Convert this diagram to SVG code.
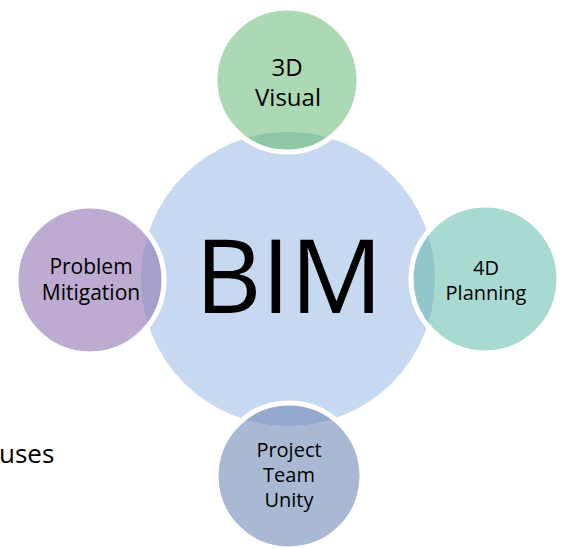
<svg xmlns="http://www.w3.org/2000/svg" width="565" height="548" viewBox="0 0 565 548">
<style>
text{font-family:"Open Sans","Liberation Sans",Arial,sans-serif;fill:#000;text-anchor:middle}
.ring{fill:none;stroke:#fff;stroke-width:5}
.s{font-size:20px}
</style>
<defs>
<clipPath id="cTop"><circle cx="287" cy="80" r="70"/></clipPath>
<clipPath id="cRight"><circle cx="485" cy="279" r="72"/></clipPath>
<clipPath id="cLeft"><circle cx="90" cy="280" r="72"/></clipPath>
<clipPath id="cBottom"><circle cx="289" cy="476" r="71"/></clipPath>
</defs>
<rect width="565" height="548" fill="#fff"/>
<g id="bim">
<circle cx="288" cy="279" r="147" fill="#c6d9f0"/>
<text x="289" y="313" style="font-size:103px">BIM</text>
</g>
<g id="visual3d">
<circle cx="287" cy="80" r="70" fill="#abd9b3"/>
<circle cx="288" cy="279" r="147" fill="#8fc7a8" clip-path="url(#cTop)"/>
<circle class="ring" cx="287" cy="80" r="72"/>
<text x="287" y="76" style="font-size:24px">3D</text>
<text x="288" y="106" style="font-size:24px">Visual</text>
</g>
<g id="planning4d">
<circle cx="485" cy="279" r="72" fill="#a9dad2"/>
<circle cx="288" cy="279" r="147" fill="#93c6ca" clip-path="url(#cRight)"/>
<circle class="ring" cx="485" cy="279" r="74"/>
<text class="s" x="486" y="275">4D</text>
<text class="s" x="486" y="300">Planning</text>
</g>
<g id="problem">
<circle cx="90" cy="280" r="72" fill="#bdabd2"/>
<circle cx="288" cy="279" r="147" fill="#a59fca" clip-path="url(#cLeft)"/>
<circle class="ring" cx="90" cy="280" r="74"/>
<text x="91" y="274" style="font-size:21px">Problem</text>
<text x="91" y="300" style="font-size:21px">Mitigation</text>
</g>
<g id="team">
<circle cx="289" cy="476" r="71" fill="#a9b8d3"/>
<circle cx="288" cy="279" r="147" fill="#93a8cc" clip-path="url(#cBottom)"/>
<circle class="ring" cx="289" cy="476" r="73"/>
<text class="s" x="289" y="457">Project</text>
<text class="s" x="289" y="482">Team</text>
<text class="s" x="289" y="507">Unity</text>
</g>
<text x="-1" y="463" style="font-size:26px;text-anchor:start">uses</text>
<g id="connectors"/>
</svg>
